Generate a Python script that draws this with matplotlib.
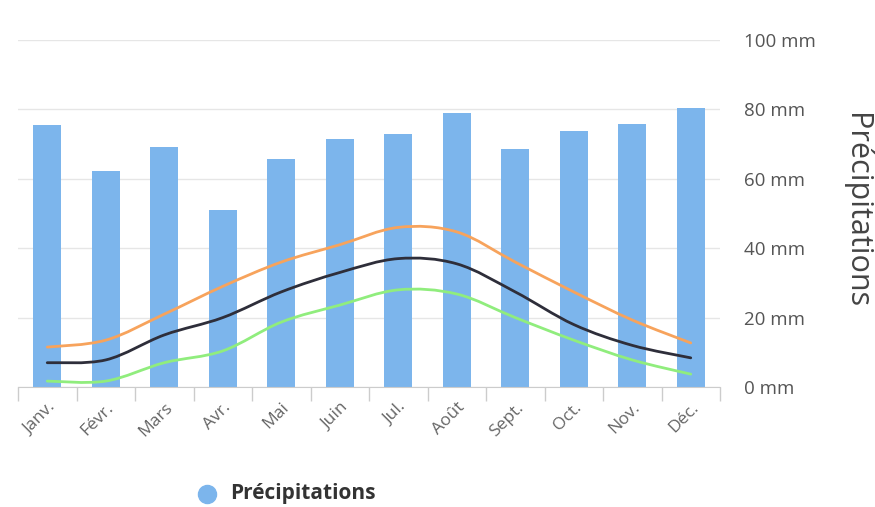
import matplotlib
matplotlib.use("Agg")
import matplotlib.pyplot as plt
from matplotlib.path import Path
from matplotlib.patches import PathPatch
import numpy as np

months = ["Janv.", "Févr.", "Mars", "Avr.", "Mai", "Juin", "Jul.", "Août",
          "Sept.", "Oct.", "Nov.", "Déc."]
precip = [75.5, 62.2, 69.2, 51.0, 65.7, 71.5, 72.9, 79.0, 68.6, 73.8, 75.8, 80.4]
line_max = [11.5, 13.5, 21.0, 29.0, 36.0, 41.0, 46.0, 44.7, 36.0, 27.4, 19.3, 12.7]
line_mean = [7.0, 7.8, 15.0, 20.0, 27.4, 33.0, 37.0, 35.5, 27.4, 18.0, 12.0, 8.4]
line_min = [1.7, 1.7, 7.0, 10.4, 18.7, 23.6, 28.0, 26.8, 20.0, 13.5, 7.8, 3.7]
yticks = [0, 20, 40, 60, 80, 100]

plt.rcParams['font.family'] = ['Open Sans', 'DejaVu Sans']

fig = plt.figure(figsize=(8.75, 5.07), dpi=100)
ax = fig.add_axes([18/875, 1-387/507, (720-18)/875, (387-40)/507])

x = np.arange(len(months))
ax.bar(x, precip, width=0.48, color="#7cb5ec", zorder=2)


def spline(ax, xs, ys, color):
    pts = np.column_stack([xs, ys]).astype(float)
    n = len(pts)
    verts = [pts[0]]
    codes = [Path.MOVETO]
    for i in range(n - 1):
        p0 = pts[i - 1] if i > 0 else pts[i]
        p1 = pts[i]
        p2 = pts[i + 1]
        p3 = pts[i + 2] if i + 2 < n else pts[i + 1]
        c1 = p1 + (p2 - p0) / 6.0
        c2 = p2 - (p3 - p1) / 6.0
        verts += [c1, c2, p2]
        codes += [Path.CURVE4] * 3
    patch = PathPatch(Path(verts, codes), facecolor="none", edgecolor=color,
                      lw=2.0, zorder=3, capstyle="round")
    ax.add_patch(patch)


spline(ax, x, line_max, "#f7a35c")
spline(ax, x, line_mean, "#2e2e3a")
spline(ax, x, line_min, "#90ed7d")

ax.set_xlim(-0.5, 11.5)
ax.set_ylim(0, 100)
ax.yaxis.tick_right()
ax.set_yticks(yticks)
ax.set_yticklabels([f"{v} mm" for v in yticks], fontsize=13.5, color="#555555")
ax.tick_params(axis="y", length=0, pad=17)
ax.grid(axis="y", color="#e6e6e6", lw=1, zorder=0)
ax.set_axisbelow(True)

ax.set_xticks(x)
ax.set_xticklabels(months, rotation=45, ha="right", rotation_mode="anchor",
                   fontsize=12.5, color="#666666")
ax.tick_params(axis="x", length=0, pad=9)
ax.set_xticks(np.arange(-0.5, 12, 1), minor=True)
ax.tick_params(axis="x", which="minor", length=10, color="#cccccc", width=1)

for s in ["top", "left", "right"]:
    ax.spines[s].set_visible(False)
ax.spines["bottom"].set_color("#cccccc")

fig.text(856/875, 1-211/507, "Précipitations", rotation=-90, fontsize=22,
         color="#444444", ha="center", va="center")

fig.text(230/875, 1-494/507, "Précipitations", fontsize=15, fontweight="bold",
         color="#333333", va="center", ha="left")
fig.add_artist(plt.Line2D([207/875], [1-494/507], marker="o", markersize=13,
                          color="#7cb5ec", transform=fig.transFigure))

fig.savefig("out.png", dpi=100)
